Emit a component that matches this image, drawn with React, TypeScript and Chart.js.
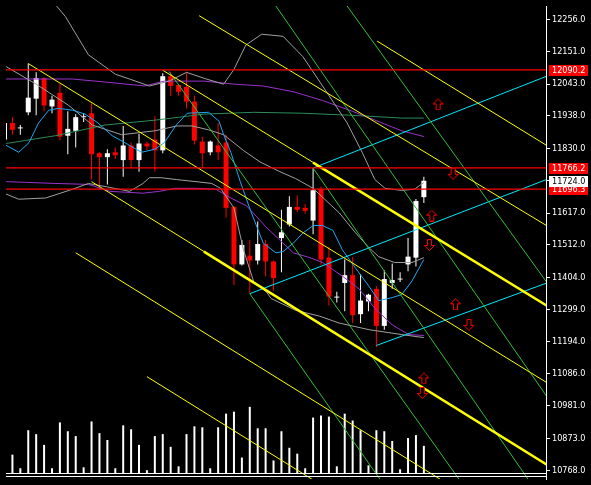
import React, { useEffect, useRef } from "react";
import { Chart, registerables } from "chart.js";

Chart.register(...registerables);

// ---------- data ----------
const firstBar = -1;
const opens = [11859.9, 11914.6, 11896.9, 11950.0, 11995.1, 12062.8, 11969.4, 12014.4, 11872.7, 11888.8, 11933.9, 11946.8, 11814.8, 11801.9, 11818.0, 11792.2, 11840.5, 11792.2, 11847.0, 11859.9, 11824.4, 12069.2, 12040.2, 12033.8, 11985.5, 11853.4, 11818.0, 11840.5, 11850.2, 11637.6, 11447.6, 11476.6, 11460.5, 11515.2, 11457.3, 11534.6, 11579.6, 11637.6, 11634.4, 11592.5, 11695.6, 11470.1, 11338.1, 11386.4, 11412.2, 11283.3, 11325.2, 11367.1, 11244.7, 11386.4, 11397.7, 11447.6, 11470.1, 11669.8];
const highs = [11924.3, 11933.9, 11908.2, 12111.1, 12082.1, 12066.0, 12004.8, 12043.4, 11953.3, 11943.6, 11946.8, 11979.0, 11818.0, 11827.6, 11834.1, 11904.9, 11850.2, 11879.2, 11853.4, 11937.1, 12078.9, 12082.1, 12043.4, 12082.1, 12004.8, 11869.5, 11856.6, 11914.6, 11876.0, 11640.8, 11528.1, 11528.1, 11589.3, 11528.1, 11460.5, 11628.0, 11673.0, 11676.3, 11647.3, 11766.4, 11705.3, 11505.6, 11357.4, 11463.7, 11473.4, 11415.4, 11351.0, 11376.7, 11428.3, 11450.8, 11421.8, 11534.6, 11663.4, 11737.5];
const lows = [11850.2, 11876.0, 11876.0, 11940.4, 11940.4, 11953.3, 11946.8, 11856.6, 11811.5, 11834.1, 11917.8, 11727.8, 11695.6, 11711.7, 11795.4, 11737.5, 11763.2, 11753.6, 11824.4, 11753.6, 11814.8, 12004.8, 12004.8, 11962.9, 11843.7, 11769.7, 11808.3, 11792.2, 11602.2, 11380.0, 11444.4, 11351.0, 11447.6, 11408.9, 11360.6, 11421.8, 11573.2, 11621.5, 11615.1, 11547.4, 11447.6, 11312.3, 11322.0, 11293.0, 11254.3, 11254.3, 11293.0, 11173.8, 11231.8, 11367.1, 11389.6, 11425.0, 11441.1, 11650.5];
const closes = [11914.6, 11892.1, 11900.1, 11998.3, 12062.8, 11972.6, 11991.9, 11869.5, 11895.3, 11933.9, 11937.1, 11811.5, 11801.9, 11814.8, 11808.3, 11840.5, 11792.2, 11847.0, 11837.3, 11824.4, 12069.2, 12037.0, 12017.7, 11985.5, 11856.6, 11814.8, 11853.4, 11818.0, 11634.4, 11447.6, 11512.0, 11460.5, 11515.2, 11457.3, 11402.5, 11553.9, 11637.6, 11628.0, 11624.7, 11692.4, 11463.7, 11341.3, 11341.3, 11412.2, 11280.1, 11328.4, 11347.7, 11244.7, 11399.3, 11396.1, 11400.9, 11473.4, 11656.9, 11724.0];
// tick volume, bars 0..52
const volumes = [1900, 500, 4400, 4000, 2900, 500, 5200, 4300, 3800, 600, 5300, 4100, 3400, 500, 4900, 4500, 2900, 300, 3800, 4000, 2700, 700, 4000, 4800, 4700, 500, 4700, 6100, 6300, 1600, 6800, 4600, 4600, 1300, 4300, 2600, 2000, 500, 5700, 5900, 5800, 700, 6100, 5400, 4400, 800, 4400, 4300, 3300, 400, 3600, 3900, 2800];

const priceTicks = [12256, 12151, 12043, 11938, 11830, 11724, 11617, 11512, 11404, 11299, 11194, 11086, 10981, 10873, 10768];
const levelLines = [12090.2, 11766.2, 11696.3];
const currentPrice = 11724.0;

// indicators: [bar, price]
const bbUpper = [[-0.8, 12523], [3.0, 12382], [6.7, 12266], [9.6, 12140], [13.0, 12076], [14.8, 12060], [17.3, 12037], [19.8, 12053], [22.0, 12082], [24.5, 12060], [26.7, 12043], [28.0, 12092], [29.5, 12172], [31.5, 12208], [34.2, 12201], [36.7, 12134], [39.2, 12037], [42.3, 11915], [44.2, 11818], [45.8, 11728], [47.1, 11699], [49.2, 11692], [50.8, 11696], [52.0, 11718]];
const bbMiddle = [[-0.8, 12101], [3.0, 12043], [7.1, 11973], [10.1, 11908], [13.8, 11876], [18.0, 11889], [20.8, 11905], [22.7, 11905], [24.8, 11892], [26.7, 11876], [29.2, 11824], [31.3, 11786], [33.8, 11754], [35.8, 11731], [38.0, 11699], [41.3, 11618], [43.3, 11554], [45.1, 11502], [46.3, 11473], [48.3, 11454], [50.5, 11454], [52.0, 11470]];
const bbLower = [[-0.8, 11680], [0.8, 11663], [4.2, 11667], [7.6, 11696], [9.6, 11715], [12.3, 11702], [14.8, 11689], [16.5, 11715], [17.3, 11734], [18.8, 11734], [20.7, 11728], [23.2, 11721], [25.2, 11715], [26.3, 11699], [28.0, 11634], [29.2, 11496], [30.5, 11390], [32.1, 11357], [32.7, 11335], [35.8, 11296], [38.8, 11277], [41.3, 11254], [45.1, 11232], [49.2, 11216], [52.0, 11206]];
const maFast = [[-0.8, 11841], [0.8, 11818], [2.1, 11850], [3.3, 11915], [4.6, 11957], [5.8, 11963], [7.6, 11957], [9.2, 11944], [10.8, 11915], [12.6, 11873], [14.2, 11850], [16.3, 11818], [18.0, 11828], [19.2, 11850], [20.7, 11908], [22.1, 11947], [24.8, 11950], [26.1, 11921], [26.7, 11876], [27.6, 11818], [28.8, 11721], [30.1, 11625], [31.7, 11518], [33.3, 11486], [34.2, 11490], [35.5, 11518], [36.7, 11551], [38.0, 11576], [39.2, 11576], [40.5, 11560], [41.7, 11496], [43.3, 11438], [45.1, 11374], [46.3, 11328], [48.0, 11338], [49.2, 11348], [50.5, 11393], [52.0, 11464]];
const envUpper = [[-0.8, 12060], [7.6, 12060], [11.7, 12050], [16.7, 12037], [19.2, 12053], [24.2, 12053], [28.0, 12043], [31.7, 12037], [35.5, 12018], [39.2, 11989], [43.0, 11953], [46.7, 11915], [49.2, 11889], [52.0, 11870]];
const envLower = [[-0.8, 11721], [5.5, 11715], [9.6, 11712], [12.3, 11689], [16.5, 11683], [18.6, 11689], [20.5, 11699], [23.2, 11699], [25.7, 11696], [27.6, 11667], [29.6, 11641], [32.1, 11570], [33.8, 11528], [35.5, 11486], [37.6, 11470], [39.2, 11454], [41.7, 11409], [43.8, 11367], [45.8, 11303], [48.0, 11248], [50.1, 11216], [52.0, 11213]];
const maSlow = [[-0.8, 11847], [5.5, 11873], [11.7, 11908], [18.0, 11924], [24.2, 11944], [30.5, 11950], [36.7, 11947], [43.0, 11940], [49.2, 11931], [52.0, 11931]];

// trend lines: [bar, price] pairs
const yellowThin = [
  [[2.0, 12111], [67.5, 11058]],
  [[19.0, 12089], [67.5, 11312]],
  [[10.0, 11721], [67.5, 10787]],
  [[46.1, 12185], [67.5, 11841]],
  [[23.6, 12269], [67.5, 11576]],
  [[8.0, 11486], [55.0, 10723]],
  [[17.0, 11077], [38.0, 10736]],
];
const yellowThick = [
  [[38.0, 11784], [67.5, 11312]],
  [[24.2, 11490], [67.5, 10787]],
];
const cyanLines = [
  [[30.0, 11351], [67.5, 11728]],
  [[38.0, 11766], [67.5, 12069]],
  [[46.0, 11180], [67.5, 11386]],
];
const greenLines = [
  [[19.8, 12085], [58.0, 10681]],
  [[33.3, 12301], [67.5, 11013]],
  [[42.3, 12301], [67.5, 11390]],
  [[38.0, 11766], [65.5, 10726]],
  [[30.0, 11351], [46.7, 10729]],
];
const upArrows = [[53.8, 11976], [53.0, 11609], [56.0, 11316], [52.0, 11071]];
const downArrows = [[55.7, 11747], [52.7, 11512], [57.7, 11248], [51.8, 11023]];

// ---------- helpers ----------
const BULL = "#FFFFFF";
const BEAR = "#FF0000";
const toXY = (pts: number[][]) => pts.map(([x, y]) => ({ x, y }));

function lineDs(pts: number[][], color: string, width: number, order: number) {
  return {
    type: "line" as const,
    data: toXY(pts),
    borderColor: color,
    borderWidth: width,
    pointRadius: 0,
    fill: false,
    tension: 0,
    order,
    clip: 0,
    yAxisID: "y",
  };
}

function makeArrow(up: boolean) {
  const c = document.createElement("canvas");
  c.width = 11;
  c.height = 12;
  const g = c.getContext("2d")!;
  const pts = [
    [5.5, 0.5], [10.5, 5.5], [7.5, 5.5], [7.5, 11.5], [3.5, 11.5], [3.5, 5.5], [0.5, 5.5],
  ].map(([x, y]) => [x, up ? y : 12 - y]);
  g.beginPath();
  g.moveTo(pts[0][0], pts[0][1]);
  for (let i = 1; i < pts.length; i++) g.lineTo(pts[i][0], pts[i][1]);
  g.closePath();
  g.fillStyle = "#000";
  g.fill();
  g.strokeStyle = "#FF0000";
  g.lineWidth = 1;
  g.stroke();
  return c;
}

const decor = {
  id: "decor",
  beforeDraw(chart: any) {
    const { ctx, width, height } = chart;
    ctx.save();
    ctx.fillStyle = "#000";
    ctx.fillRect(0, 0, width, height);
    ctx.restore();
  },
  afterDraw(chart: any) {
    const { ctx, chartArea, width } = chart;
    const ys = chart.scales.y;
    const yv = chart.scales.yv;
    ctx.save();
    // bottom separator (volume base)
    const base = Math.round(yv.getPixelForValue(0)) + 0.5;
    ctx.strokeStyle = "#FFFFFF";
    ctx.lineWidth = 1;
    ctx.beginPath();
    ctx.moveTo(chartArea.left, base);
    ctx.lineTo(chartArea.right, base);
    ctx.moveTo(chartArea.left, base + 3);
    ctx.lineTo(chartArea.right, base + 3);
    ctx.stroke();
    // price labels
    const boxes = [
      ...levelLines.map((v) => ({ v, bg: "#FF0000", fg: "#FFFFFF" })),
      { v: currentPrice, bg: "#FFFFFF", fg: "#000000" },
    ];
    ctx.font = "9px 'DejaVu Sans Condensed', 'DejaVu Sans', sans-serif";
    ctx.textBaseline = "middle";
    ctx.textAlign = "left";
    for (const b of boxes) {
      const py = Math.round(ys.getPixelForValue(b.v));
      ctx.fillStyle = b.bg;
      ctx.fillRect(chartArea.right + 3, py - 5, width - chartArea.right - 6, 11);
      ctx.fillStyle = b.fg;
      ctx.fillText(b.v.toFixed(1), chartArea.right + 6, py + 0.5);
    }
    ctx.restore();
  },
};

export default function App() {
  const ref = useRef<HTMLCanvasElement>(null);
  useEffect(() => {
    if (!ref.current) return;
    const idx = opens.map((_, i) => i);
    const colorOf = (i: number) => (closes[i] >= opens[i] ? BULL : BEAR);
    const upImg = makeArrow(true);
    const downImg = makeArrow(false);

    const datasets: any[] = [
      {
        type: "bar",
        data: volumes.map((v, i) => ({ x: i, y: v })),
        yAxisID: "yv",
        backgroundColor: "#FFFFFF",
        barThickness: 2,
        grouped: false,
        inflateAmount: 0,
        borderWidth: 0,
        order: 9,
        clip: 0,
      },
      {
        type: "bar",
        data: idx.map((i) => ({ x: i + firstBar, y: [lows[i], highs[i]] })),
        yAxisID: "y",
        backgroundColor: idx.map(colorOf),
        barThickness: 1,
        grouped: false,
        inflateAmount: 0,
        borderWidth: 0,
        order: 8,
        clip: 0,
      },
      {
        type: "bar",
        data: idx.map((i) => ({ x: i + firstBar, y: [opens[i], closes[i]] })),
        yAxisID: "y",
        backgroundColor: idx.map(colorOf),
        barThickness: 5,
        grouped: false,
        inflateAmount: 0,
        borderWidth: 0,
        order: 7,
        clip: 0,
      },
      lineDs(bbUpper, "#A0A0A0", 1, 6),
      lineDs(bbMiddle, "#A0A0A0", 1, 6),
      lineDs(bbLower, "#A0A0A0", 1, 6),
      lineDs(envUpper, "#9932CC", 1, 6),
      lineDs(envLower, "#9932CC", 1, 6),
      lineDs(maSlow, "#2E8B57", 1, 6),
      lineDs(maFast, "#1CA8F0", 1, 5),
      ...greenLines.map((l) => lineDs(l, "#30C030", 1, 4)),
      ...cyanLines.map((l) => lineDs(l, "#00E8FF", 1, 4)),
      ...yellowThin.map((l) => lineDs(l, "#FFFF00", 1, 3)),
      ...yellowThick.map((l) => lineDs(l, "#FFFF00", 2.5, 3)),
      ...levelLines.map((v) => lineDs([[-0.9, v], [67.5, v]], "#FF0000", 1.2, 2)),
      {
        type: "line",
        data: toXY(upArrows),
        showLine: false,
        pointStyle: upImg,
        pointRadius: 5,
        order: 1,
        clip: 0,
        yAxisID: "y",
      },
      {
        type: "line",
        data: toXY(downArrows),
        showLine: false,
        pointStyle: downImg,
        pointRadius: 5,
        order: 1,
        clip: 0,
        yAxisID: "y",
      },
    ];

    const chart = new Chart(ref.current, {
      type: "line",
      data: { datasets },
      options: {
        responsive: false,
        animation: false,
        events: [],
        layout: { padding: 0 },
        plugins: { legend: { display: false }, tooltip: { enabled: false } },
        scales: {
          x: { type: "linear", min: -0.8125, max: 67.4375, display: false, offset: false },
          y: {
            type: "linear",
            position: "right",
            min: 10739.0,
            max: 12301.1,
            afterBuildTicks: (s: any) => {
              s.ticks = priceTicks.map((v) => ({ value: v }));
            },
            afterFit: (s: any) => {
              s.width = 45;
              s.paddingTop = 0;
              s.paddingBottom = 0;
            },
            grid: {
              display: true,
              drawOnChartArea: false,
              drawTicks: true,
              tickLength: 4,
              color: "#FFFFFF",
              tickColor: "#FFFFFF",
            },
            border: { display: true, color: "#FFFFFF", width: 1 },
            ticks: {
              color: "#FFFFFF",
              padding: 2,
              autoSkip: false,
              font: { family: "'DejaVu Sans Condensed', 'DejaVu Sans', sans-serif", size: 9 },
              callback: (v: any) => Number(v).toFixed(1),
            },
          },
          yv: { type: "linear", display: false, min: -600, max: 47900 },
        },
      } as any,
      plugins: [decor],
    } as any);
    return () => chart.destroy();
  }, []);

  return (
    <div style={{ position: "absolute", left: 0, top: 0, width: 591, height: 485 }}>
      <canvas ref={ref} width={591} height={485} style={{ display: "block" }} />
    </div>
  );
}
